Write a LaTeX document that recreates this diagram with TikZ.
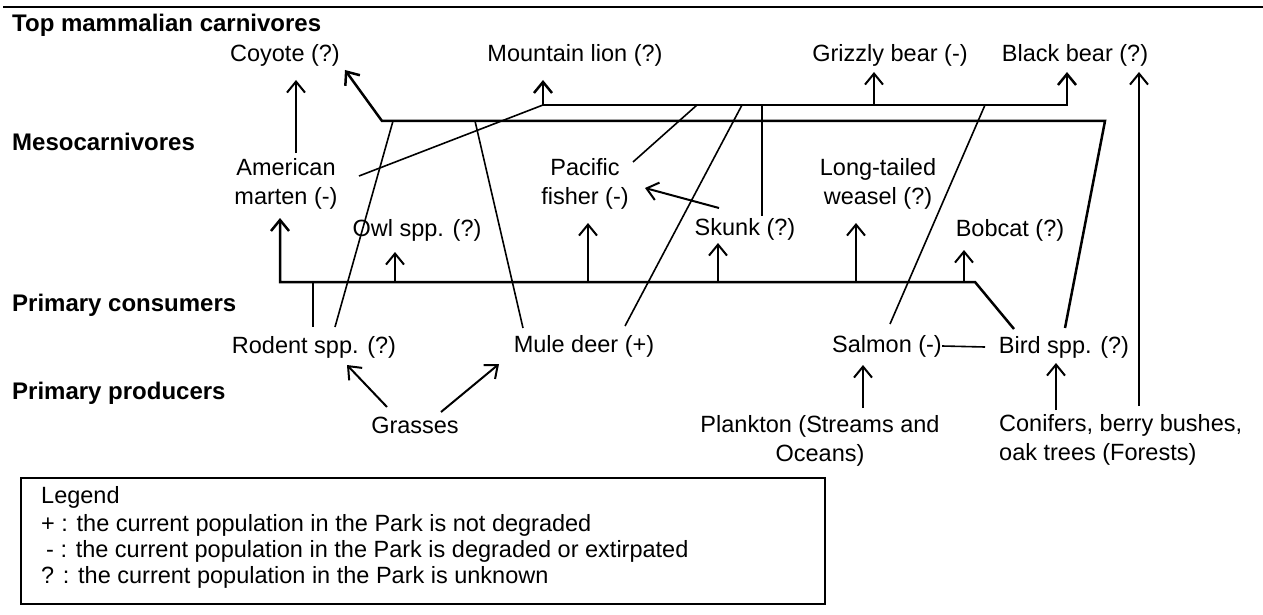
\documentclass[tikz,border=0pt]{standalone}
\usepackage{fontspec}
\setmainfont{Liberation Sans}
\usetikzlibrary{arrows.meta}

\tikzset{
  lbl/.style={inner sep=0pt, font=\fontsize{23.5}{29}\selectfont},
  lvl/.style={lbl, anchor=west, font=\fontsize{24}{29}\selectfont\bfseries},
  bar/.style={line width=2.5pt},
  link/.style={line width=1.6pt},
  eats/.style={line width=2pt, -{Straight Barb[length=11pt,width=18pt]}},
}

\begin{document}
\begin{tikzpicture}[x=1pt,y=-1pt]
        \useasboundingbox (0,0) rectangle (1263,615);
        \draw[bar] (3,7) -- (1263,7);

        \node[lvl] (top)  at (12,25)  {Top mammalian carnivores};
        \node[lvl] (meso) at (12,142) {Mesocarnivores};
        \node[lvl] (cons) at (12,305) {Primary consumers};
        \node[lvl] (prod) at (12,393) {Primary producers};

        \node[lbl] (coyote)   at (285,55)  {Coyote (?)};
        \node[lbl] (lion)     at (575,55)  {Mountain lion (?)};
        \node[lbl] (grizzly)  at (890,55)  {Grizzly bear (-)};
        \node[lbl] (blackbear) at (1075,55) {Black bear (?)};

        \node[lbl, align=center] (marten) at (286,184) {American\\marten (-)};
        \node[lbl, align=center] (fisher) at (585,184) {Pacific\\fisher (-)};
        \node[lbl, align=center] (weasel) at (878,184) {Long-tailed\\weasel (?)};
        \node[lbl] (owl)    at (417,230) {Owl spp. (?)};
        \node[lbl] (skunk)  at (745,229) {Skunk (?)};
        \node[lbl] (bobcat) at (1010,230) {Bobcat (?)};

        \node[lbl] (rodent)   at (314,347)  {Rodent spp. (?)};
        \node[lbl] (muledeer) at (584,346)  {Mule deer (+)};
        \node[lbl] (salmon)   at (887,346)  {Salmon (-)};
        \node[lbl] (bird)     at (1064,347) {Bird spp. (?)};

        \node[lbl] (grasses) at (415,425) {Grasses};
        \node[lbl, align=center] (plankton) at (820,441) {Plankton (Streams and\\Oceans)};
        \node[lbl, align=left, anchor=west] (conifers) at (999,440) {Conifers, berry bushes,\\oak trees (Forests)};

        % bars joining the prey of each level
        \coordinate (ubL) at (543,105);
        \coordinate (ubR) at (1067,105);
        \coordinate (lbL) at (382,121);
        \coordinate (lbR) at (1105,121);
        \coordinate (cbL) at (280,282);
        \coordinate (cbR) at (975,282);

        \draw[bar, {Straight Barb[length=11pt,width=18pt]}-{Straight Barb[length=11pt,width=18pt]}]
            (543,80) -- (ubL) -- (ubR) -- (1067,72);
        \draw[bar, {Straight Barb[length=11pt,width=18pt]}-]
            (345,70) -- (lbL) -- (lbR) -- (1065,328);
        \draw[bar, {Straight Barb[length=11pt,width=18pt]}-]
            (280,218) -- (cbL) -- (cbR) -- (1014,329);

        \draw[eats] (874,105) -- (874,72);
        \draw[eats] (395,282) -- (395,252);
        \draw[eats] (588,282) -- (588,223);
        \draw[eats] (718,282) -- (718,243);
        \draw[eats] (856,282) -- (856,223);
        \draw[eats] (964,282) -- (964,250);

        \draw[bar] (313,282) -- (313,327);
        \draw[bar] (762,105) -- (762,216);

        \draw[link] (359,176) -- (ubL);
        \draw[link] (633,162) -- (697,105);
        \draw[link] (625,326) -- (742,105);
        \draw[link] (890,324) -- (985,105);
        \draw[link] (335,327) -- (393,121);
        \draw[link] (523,328) -- (475,121);
        \draw[link] (salmon.east) -- (985,347);

        \draw[eats] (719,208) -- (645,188);
        \draw[eats] (296,153) -- (296,80);
        \draw[eats] (387,407) -- (347,365);
        \draw[eats] (441,412) -- (499,364);
        \draw[eats] (863,408) -- (863,365);
        \draw[eats] (1056,410) -- (1056,363);
        \draw[eats] (1139,406) -- (1139,72);

        \node[draw, line width=2pt, anchor=north west, minimum width=804pt, minimum height=126pt, inner sep=0pt] (legend) at (20,477) {};
        \node[lbl, anchor=base west] (leg0) at (41,503) {Legend};
        \node[lbl, anchor=base west] (leg1) at (41,531) {+ : the current population in the Park is not degraded};
        \node[lbl, anchor=base west] (leg2) at (41,557) {\hspace{5pt}- : the current population in the Park is degraded or extirpated};
        \node[lbl, anchor=base west] (leg3) at (41,583) {? : the current population in the Park is unknown};
    \end{tikzpicture}
\end{document}
